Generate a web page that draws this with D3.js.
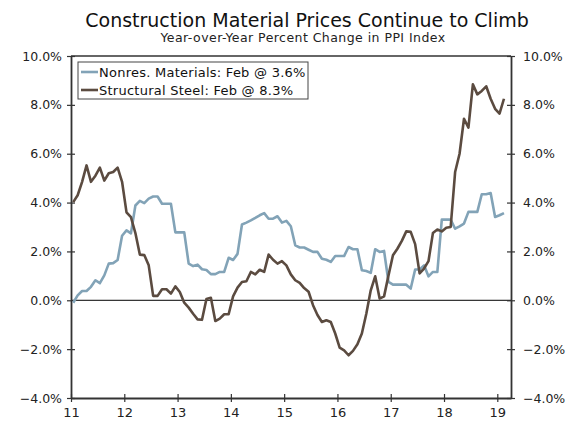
<!DOCTYPE html>
<html>
<head>
<meta charset="utf-8">
<script src="https://cdn.jsdelivr.net/npm/d3@7/dist/d3.min.js"></script>
<style>
	body { margin: 0; background: #fff; }
	svg { font-family: "DejaVu Sans", Verdana, sans-serif; }
</style>
</head>
<body>
<div id="chart"></div>
<script>
// monthly values, Jan 2011 .. Feb 2019
const startYear = 2011;
const nonresMaterials = [
	-0.1, 0.2, 0.38, 0.38, 0.55, 0.82, 0.7, 1.02, 1.5, 1.52, 1.65, 2.64,
	2.86, 2.74, 3.88, 4.07, 3.98, 4.16, 4.25, 4.25, 3.95, 3.95, 3.95, 2.78,
	2.78, 2.78, 1.5, 1.4, 1.46, 1.27, 1.24, 1.07, 1.07, 1.16, 1.16, 1.74,
	1.65, 1.9, 3.1, 3.18, 3.27, 3.37, 3.48, 3.57, 3.34, 3.34, 3.44, 3.18,
	3.25, 3.03, 2.25, 2.16, 2.16, 2.07, 1.98, 1.98, 1.7, 1.66, 1.57, 1.81,
	1.81, 1.81, 2.18, 2.09, 2.09, 1.23, 1.2, 1.12, 2.09, 1.98, 2.02, 0.75,
	0.64, 0.64, 0.64, 0.64, 0.48, 1.26, 1.26, 1.43, 0.98, 1.16, 1.16, 3.3,
	3.3, 3.3, 2.93, 3.03, 3.14, 3.62, 3.62, 3.62, 4.34, 4.34, 4.39, 3.41,
	3.48, 3.57
];
const structuralSteel = [
	4.02, 4.3, 4.85, 5.52, 4.85, 5.1, 5.43, 4.9, 5.2, 5.25, 5.43, 4.85,
	3.6, 3.4, 2.75, 1.87, 1.85, 1.43, 0.18, 0.18, 0.45, 0.45, 0.27, 0.57,
	0.34, -0.1, -0.3, -0.55, -0.78, -0.8, 0.05, 0.1, -0.85, -0.75, -0.57, -0.57,
	0.16, 0.52, 0.75, 0.78, 1.16, 1.06, 1.25, 1.16, 1.87, 1.66, 1.5, 1.6,
	1.43, 1.06, 0.82, 0.71, 0.5, 0.35, -0.2, -0.6, -0.89, -0.82, -0.89, -1.36,
	-1.94, -2.05, -2.25, -2.07, -1.8, -1.36, -0.55, 0.41, 0.98, 0.07, 0.16, 1.02,
	1.84, 2.11, 2.43, 2.82, 2.8, 2.3, 1.1, 1.3, 1.6, 2.75, 2.9, 2.82,
	2.97, 3.0, 5.25, 6.0, 7.43, 7.07, 8.84, 8.43, 8.57, 8.76, 8.25, 7.84,
	7.64, 8.25
];
const seriesNames = ['Nonres. Materials: Feb @ 3.6%', 'Structural Steel: Feb @ 8.3%'];
const seriesColors = ['#82a3b7', '#5b4b40'];
const yTicks = [-4, -2, 0, 2, 4, 6, 8, 10];
const xTicks = [2011, 2012, 2013, 2014, 2015, 2016, 2017, 2018, 2019];

const width = 578, height = 421;
const m = { left: 71, right: 67, top: 56, bottom: 23 };

const svg = d3.select('#chart').append('svg')
	.attr('width', width)
	.attr('height', height);

//title
svg.append('text')
	.attr('x', 307).attr('y', 27)
	.attr('text-anchor', 'middle')
	.style('font-size', '19px')
	.style('fill', '#111')
	.text('Construction Material Prices Continue to Climb');
svg.append('text')
	.attr('x', 303).attr('y', 42)
	.attr('text-anchor', 'middle')
	.style('font-size', '12.5px')
	.style('letter-spacing', '0.45px')
	.style('fill', '#222')
	.text('Year-over-Year Percent Change in PPI Index');

const xScale = d3.scaleLinear()
	.domain([2011, 2019.257])
	.range([m.left, width - m.right]);
const yScale = d3.scaleLinear()
	.domain([-4, 10])
	.range([height - m.bottom, m.top]);

// mid-month position
const toData = arr => arr.map((v, i) => ({ t: startYear + i / 12 + 1 / 24, v: v }));
const series = [toData(nonresMaterials), toData(structuralSteel)];

//frame top
svg.append('line')
	.attr('x1', xScale.range()[0]).attr('x2', xScale.range()[1])
	.attr('y1', yScale(10)).attr('y2', yScale(10))
	.style('stroke', '#333').style('stroke-width', 1.5);

//zero line
svg.append('line')
	.attr('x1', xScale.range()[0]).attr('x2', xScale.range()[1])
	.attr('y1', yScale(0)).attr('y2', yScale(0))
	.style('stroke', '#000').style('stroke-width', 1);

const pct = d3.format('.1f');

function styleAxis(g) {
	g.select('.domain').style('stroke', '#333').style('stroke-width', 1.8);
	g.selectAll('.tick line').style('stroke', '#333').style('stroke-width', 1.2);
	g.selectAll('.tick text').style('font-size', '12.5px').style('fill', '#222')
		.style('font-family', '"DejaVu Sans", Verdana, sans-serif');
}

svg.append('g')
	.attr('transform', 'translate(' + m.left + ',0)')
	.call(d3.axisLeft(yScale).tickValues(yTicks).tickSize(4).tickSizeOuter(0)
		.tickFormat(d => pct(d) + '%').tickPadding(5))
	.call(styleAxis)
	.call(g => g.selectAll('.tick line').attr('x1', 4));

svg.append('g')
	.attr('transform', 'translate(' + (width - m.right) + ',0)')
	.call(d3.axisRight(yScale).tickValues(yTicks).tickSize(4).tickSizeOuter(0)
		.tickFormat(d => pct(d) + '%').tickPadding(8))
	.call(styleAxis)
	.call(g => g.selectAll('.tick line').attr('x1', -4));

svg.append('g')
	.attr('transform', 'translate(0,' + (height - m.bottom) + ')')
	.call(d3.axisBottom(xScale).tickValues(xTicks).tickSize(4).tickSizeOuter(0)
		.tickFormat(d => String(d).slice(2)).tickPadding(6))
	.call(styleAxis)
	.call(g => g.selectAll('.tick line').attr('y1', -4))
	.call(g => g.selectAll('.tick text').style('font-size', '13px'));

//lines
const valueLine = d3.line()
	.x(d => xScale(d.t))
	.y(d => yScale(d.v));

series.forEach((s, i) => {
	svg.append('path')
		.datum(s)
		.attr('fill', 'none')
		.style('stroke', seriesColors[i])
		.style('stroke-width', 2.6)
		.style('stroke-linejoin', 'round')
		.attr('d', valueLine);
});

//legend
const legend = svg.append('g').attr('class', 'legend');
legend.append('rect')
	.attr('x', 78).attr('y', 62)
	.attr('width', 230).attr('height', 37)
	.style('fill', '#fff')
	.style('stroke', '#444')
	.style('stroke-width', 1);
seriesNames.forEach((name, i) => {
	const ly = 72 + i * 18;
	legend.append('line')
		.attr('x1', 81).attr('x2', 98)
		.attr('y1', ly).attr('y2', ly)
		.style('stroke', seriesColors[i])
		.style('stroke-width', 2.6);
	legend.append('text')
		.attr('x', 99).attr('y', ly + 4.5)
		.style('font-size', '13px')
		.style('letter-spacing', '0.25px')
		.style('fill', '#111')
		.text(name);
});
</script>
</body>
</html>
